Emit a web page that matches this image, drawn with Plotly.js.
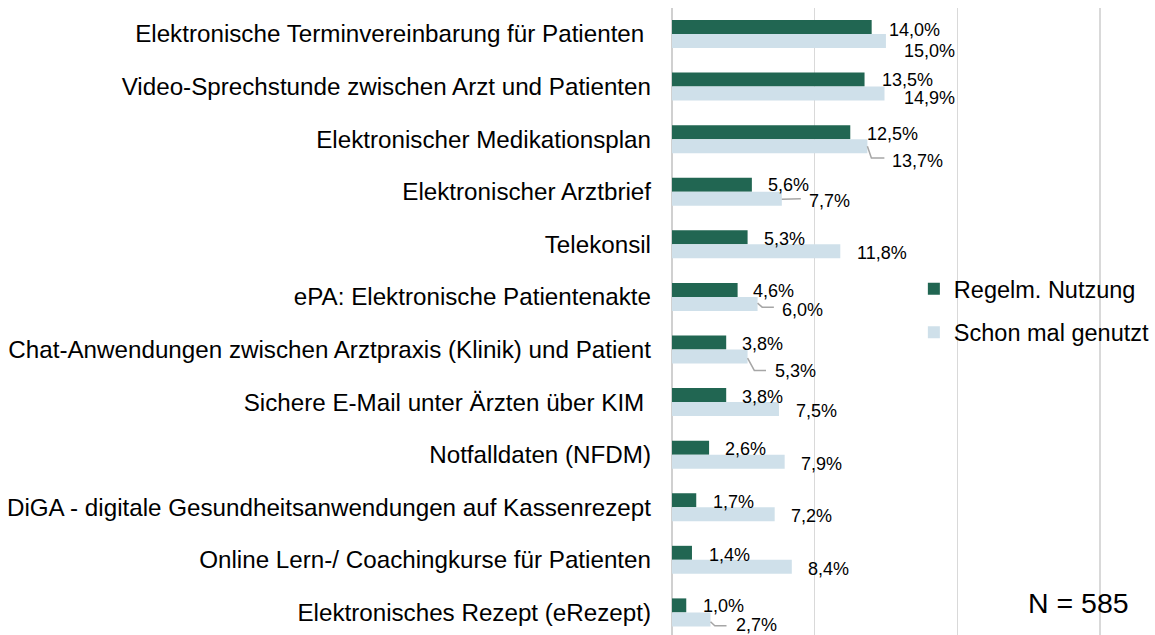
<!DOCTYPE html>
<html>
<head>
<meta charset="utf-8">
<script src="https://cdn.plot.ly/plotly-3.0.1.min.js"></script>
<style>
  html, body { margin: 0; padding: 0; background: #fff; overflow: hidden; }
  #chart { width: 1155px; height: 635px; }
</style>
</head>
<body>
<div id="chart"></div>
<script>
// ---- data ----
const categories = [
  "Elektronische Terminvereinbarung für Patienten\u00a0",
  "Video-Sprechstunde zwischen Arzt und Patienten",
  "Elektronischer Medikationsplan",
  "Elektronischer Arztbrief",
  "Telekonsil",
  "ePA: Elektronische Patientenakte",
  "Chat-Anwendungen zwischen Arztpraxis (Klinik) und Patient",
  "Sichere E-Mail unter Ärzten über KIM\u00a0",
  "Notfalldaten (NFDM)",
  "DiGA - digitale Gesundheitsanwendungen auf Kassenrezept",
  "Online Lern-/ Coachingkurse für Patienten",
  "Elektronisches Rezept (eRezept)"
];
const seriesNames = ["Regelm. Nutzung", "Schon mal genutzt"];
const regelm = [14.0, 13.5, 12.5, 5.6, 5.3, 4.6, 3.8, 3.8, 2.6, 1.7, 1.4, 1.0];
const schon  = [15.0, 14.9, 13.7, 7.7, 11.8, 6.0, 5.3, 7.5, 7.9, 7.2, 8.4, 2.7];
const noteText = "N = 585";

// ---- styles ----
const FONT = "Liberation Sans, Arial, Helvetica, sans-serif";
const colors = ["#216652", "#CFE0EA"];
const barHalfOffsetPx = 7;   // vertical offset of each bar centre from category centre
// label offsets: [dx from bar end (px), dy down from bar centre (px)]
const darkLabelOffsets = [[17.4,3],[17,0.7],[16.6,2],[16.3,0.7],[16.3,1.4],[15.3,1.5],[16,1.8],[16,1.8],[15.7,1.7],[16.6,2],[17,1.7],[16.6,1]];
const lightLabelOffsets = [[17.7,9.8],[19.7,4],[25,14.4],[27,2.5],[16.3,1.3],[24,6],[27.4,14.3],[16.7,2.3],[16.3,2],[16.3,1.7],[16,2],[25,5.7]];
// leader lines for the light series: index -> points [dx, dy-down] relative to bar end / bar centre
const leaderLines = {
  2: [[0,0],[4,11.8],[17,11.8]],
  3: [[0,0.6],[19,0]],
  5: [[0,-0.7],[4.6,3.3],[16.3,3.3]],
  6: [[0,1.6],[6.7,14],[18.4,14]],
  11: [[0,2.4],[4.3,6.4],[16,6.4]]
};

const fmt = v => v.toFixed(1).replace('.', ',') + '%';

const traces = [
  {type:'bar', orientation:'h', name: seriesNames[0], y: categories, x: regelm,
   marker:{color: colors[0]}, hoverinfo:'skip', legendgroup:'a'},
  {type:'bar', orientation:'h', name: seriesNames[1], y: categories, x: schon,
   marker:{color: colors[1]}, hoverinfo:'skip', legendgroup:'b'}
];

const TEXT_PAD = 2; // annotation box padding
const LABEL_SIZE = 18;
const annotations = [];
regelm.forEach((v, i) => {
  annotations.push({x: v, y: categories[i], xref:'x', yref:'y', text: fmt(v), showarrow:false,
    xanchor:'left', yanchor:'middle', xshift: darkLabelOffsets[i][0] - TEXT_PAD,
    yshift: barHalfOffsetPx - darkLabelOffsets[i][1],
    font:{family: FONT, size: LABEL_SIZE, color:'#000'}});
});
schon.forEach((v, i) => {
  annotations.push({x: v, y: categories[i], xref:'x', yref:'y', text: fmt(v), showarrow:false,
    xanchor:'left', yanchor:'middle', xshift: lightLabelOffsets[i][0] - TEXT_PAD,
    yshift: -barHalfOffsetPx - lightLabelOffsets[i][1],
    font:{family: FONT, size: LABEL_SIZE, color:'#000'}});
});
annotations.push({xref:'paper', yref:'paper', x: 0.813, y: 0.051, xanchor:'left', yanchor:'middle',
  text: noteText, showarrow:false, font:{family: FONT, size: 28.5, color:'#000'}});

const shapes = [];
Object.keys(leaderLines).forEach(k => {
  const i = +k;
  const pts = leaderLines[k];
  const path = pts.map((p, j) => (j ? 'L' : 'M') + p[0] + ',' + (-(barHalfOffsetPx + p[1]))).join(' ');
  shapes.push({type:'path', xref:'x', yref:'y', xsizemode:'pixel', ysizemode:'pixel',
    xanchor: schon[i], yanchor: categories[i], path: path,
    line:{color:'#A6A6A6', width:1.5}});
});

const layout = {
  width: 1155, height: 635,
  margin: {l: 672, r: 43.8, t: 8, b: 0, pad: 0},
  paper_bgcolor: '#fff', plot_bgcolor: '#fff',
  barmode: 'group', bargap: 0.468, bargroupgap: 0,
  font: {family: FONT, color: '#000'},
  xaxis: {range: [0, 30.5], showticklabels: false, ticks: '', dtick: 10, tick0: 0,
          showgrid: true, gridcolor: '#D9D9D9', gridwidth: 1.5,
          zeroline: true, zerolinecolor: '#D0D0D0', zerolinewidth: 1.5,
          showline: false, fixedrange: true},
  yaxis: {type: 'category', range: [11.43, -0.494], ticks: '', showgrid: false, zeroline: false,
          showline: false, ticklabelstandoff: 20,
          tickfont: {family: FONT, size: 24.2, color: '#000'}, fixedrange: true},
  legend: {x: 0.556, y: 0.587, xanchor: 'left', yanchor: 'top', bgcolor: 'rgba(0,0,0,0)',
           font: {family: FONT, size: 23.5, color: '#000'}, traceorder: 'grouped', tracegroupgap: 10},
  showlegend: true,
  annotations: annotations,
  shapes: shapes
};

Plotly.newPlot('chart', traces, layout, {displayModeBar: false, staticPlot: true});
</script>
</body>
</html>
